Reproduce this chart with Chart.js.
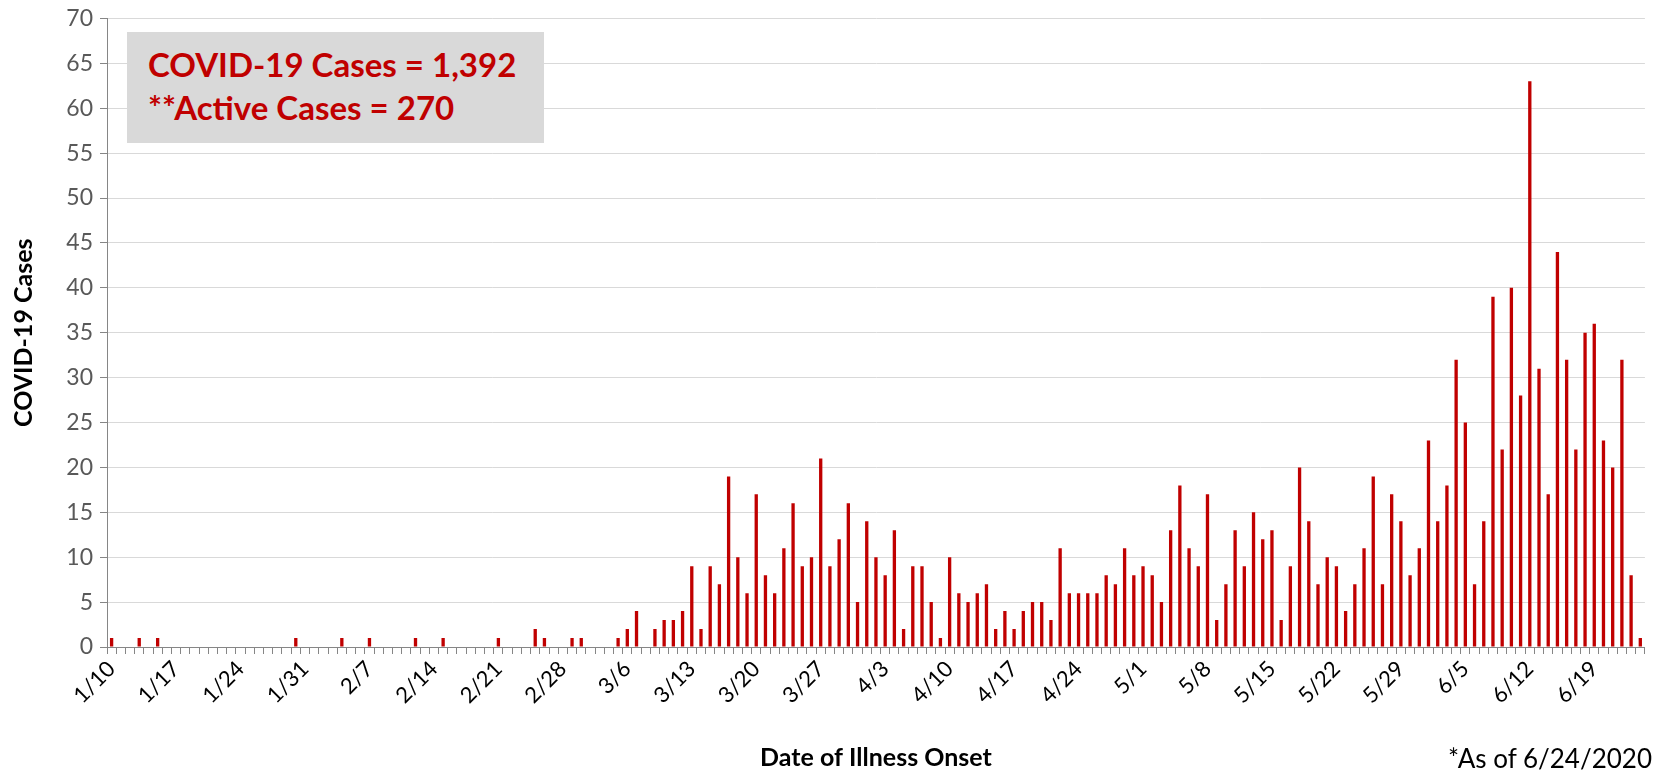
<!DOCTYPE html>
<html>
<head>
<meta charset="utf-8">
<title>COVID-19 Cases by Date of Illness Onset</title>
<script src="https://cdn.jsdelivr.net/npm/chart.js@4.4.1/dist/chart.umd.min.js"></script>
<style>
  html, body { margin: 0; padding: 0; background: #fff; }
  #wrap { position: relative; width: 1661px; height: 775px; font-family: Lato, "Open Sans", sans-serif; }
  #cases-chart { position: absolute; left: 0; top: 0; }
  .summary-box {
    position: absolute; left: 127px; top: 32px; width: 417px; height: 111px;
    box-sizing: border-box; padding: 11px 0 0 21px;
    background: #d9d9d9; color: #c00000;
    font-weight: 700; font-size: 33px; line-height: 43px; white-space: nowrap;
  }
  .footnote { position: absolute; right: 9px; top: 742px; font-size: 26px; color: #000; white-space: nowrap; }
</style>
</head>
<body>
<div id="wrap">
  <canvas id="cases-chart" width="1661" height="775"></canvas>
  <div class="summary-box">
    <div>COVID-19 Cases = 1,392</div>
    <div>**Active Cases = 270</div>
  </div>
  <div class="footnote">*As of 6/24/2020</div>
</div>
<script>
(function () {
  // daily case counts by date of illness onset, 2020
  const jan = [1, 0, 0, 1, 0, 1, 0, 0, 0, 0, 0, 0, 0, 0, 0, 0, 0, 0, 0, 0, 1, 0];
  const feb = [0, 0, 0, 1, 0, 0, 1, 0, 0, 0, 0, 1, 0, 0, 1, 0, 0, 0, 0, 0, 1, 0, 0, 0, 2, 1, 0, 0, 1];
  const mar = [1, 0, 0, 0, 1, 2, 4, 0, 2, 3, 3, 4, 9, 2, 9, 7, 19, 10, 6, 17, 8, 6, 11, 16, 9, 10, 21, 9, 12, 16, 5];
  const apr = [14, 10, 8, 13, 2, 9, 9, 5, 1, 10, 6, 5, 6, 7, 2, 4, 2, 4, 5, 5, 3, 11, 6, 6, 6, 6, 8, 7, 11, 8];
  const may = [9, 8, 5, 13, 18, 11, 9, 17, 3, 7, 13, 9, 15, 12, 13, 3, 9, 20, 14, 7, 10, 9, 4, 7, 11, 19, 7, 17, 14, 8, 11];
  const jun = [23, 14, 18, 32, 25, 7, 14, 39, 22, 40, 28, 63, 31, 17, 44, 32, 22, 35, 36, 23, 20, 32, 8, 1];

  const MONTHS = [
    { month: 1, firstDay: 10, values: jan },
    { month: 2, firstDay: 1, values: feb },
    { month: 3, firstDay: 1, values: mar },
    { month: 4, firstDay: 1, values: apr },
    { month: 5, firstDay: 1, values: may },
    { month: 6, firstDay: 1, values: jun },
  ];

  // only every 7th day gets a label
  const tickLabels = [
    "1/10", "1/17", "1/24", "1/31", "2/7", "2/14", "2/21", "2/28",
    "3/6", "3/13", "3/20", "3/27", "4/3", "4/10", "4/17", "4/24",
    "5/1", "5/8", "5/15", "5/22", "5/29", "6/5", "6/12", "6/19",
  ];

  const categories = [];
  const cases = [];
  MONTHS.forEach(({ month, firstDay, values }) => {
    values.forEach((value, i) => {
      categories.push(`${month}/${firstDay + i}`);
      cases.push(value);
    });
  });

  const AXIS_GRAY = "#868686";
  const GRID_GRAY = "#d9d9d9";

  Chart.defaults.font.family = "Lato, 'Open Sans', sans-serif";

  function buildConfig() {
    return {
      type: "bar",
      data: {
        labels: categories,
        datasets: [
          {
            label: "COVID-19 Cases",
            data: cases,
            backgroundColor: "#c00000",
            borderWidth: 0,
            barPercentage: 0.36,
            categoryPercentage: 1,
          },
        ],
      },
      options: {
        responsive: false,
        animation: false,
        layout: {
          padding: { top: 8, right: 7, left: 0, bottom: 0 },
        },
        plugins: {
          legend: { display: false },
          tooltip: { enabled: false },
        },
        scales: {
          x: {
            afterFit(scale) {
              scale.height = 128;
            },
            border: { color: AXIS_GRAY, width: 1 },
            grid: {
              offset: true,
              drawOnChartArea: false,
              tickColor: AXIS_GRAY,
              tickLength: 7,
            },
            ticks: {
              autoSkip: false,
              minRotation: 45,
              maxRotation: 45,
              padding: 2,
              color: "#000",
              font: { size: 22 },
              callback(value, index) {
                return index % 7 === 0 ? tickLabels[index / 7] : "";
              },
            },
            title: {
              display: true,
              text: "Date of Illness Onset",
              color: "#000",
              font: { size: 25, weight: "bold", lineHeight: 1.2 },
              padding: { top: 0, bottom: 2 },
            },
          },
          y: {
            min: 0,
            max: 70,
            afterFit(scale) {
              scale.width = 107;
            },
            border: { color: AXIS_GRAY, width: 1 },
            grid: {
              color: GRID_GRAY,
              tickColor: AXIS_GRAY,
              tickLength: 7,
            },
            ticks: {
              stepSize: 5,
              padding: 7,
              color: "#595959",
              font: { size: 23, lineHeight: 1 },
            },
            title: {
              display: true,
              text: "COVID-19 Cases",
              color: "#000",
              font: { size: 25, weight: "bold", lineHeight: 1.2 },
              padding: { top: 9, bottom: 0 },
            },
          },
        },
      },
    };
  }

  function renderChart() {
    const canvas = document.getElementById("cases-chart");
    new Chart(canvas.getContext("2d"), buildConfig());
  }

  renderChart();
})();
</script>
</body>
</html>
